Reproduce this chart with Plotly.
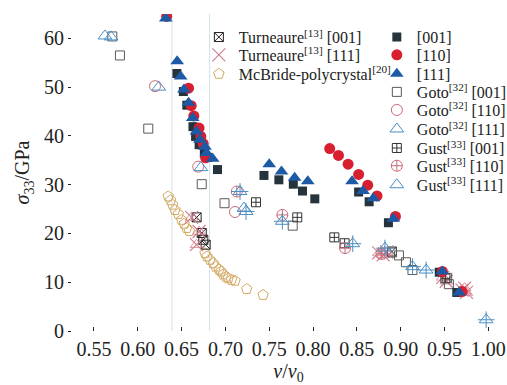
import plotly.graph_objects as go

# ---------------- data ----------------
x001 = [0.6447, 0.652, 0.656, 0.663, 0.666, 0.670, 0.676, 0.680, 0.691, 0.744, 0.761, 0.7775, 0.788, 0.802, 0.852, 0.864, 0.886, 0.944, 0.964]
y001 = [52.8, 49.1, 46.3, 41.9, 39.9, 38.2, 36.5, 35.6, 33.1, 31.9, 31.0, 30.1, 28.7, 27.1, 28.5, 26.5, 22.2, 12.05, 7.9]

x110 = [0.633, 0.658, 0.661, 0.664, 0.670, 0.672, 0.6747, 0.6775, 0.819, 0.829, 0.840, 0.852, 0.8624, 0.873, 0.894, 0.9476, 0.970]
y110 = [64.5, 49.8, 46.2, 44.1, 41.6, 39.9, 38.4, 35.5, 37.4, 36.0, 34.2, 32.1, 29.9, 27.7, 23.5, 12.2, 8.1]

x111 = [0.632, 0.645, 0.649, 0.6527, 0.658, 0.6627, 0.667, 0.671, 0.6767, 0.6786, 0.6855, 0.750, 0.764, 0.779, 0.794, 0.8445, 0.857, 0.8688, 0.8917, 0.9475, 0.9667]
y111 = [64.1, 55.3, 52.2, 49.5, 46.8, 43.7, 40.9, 39.2, 37.8, 36.5, 35.3, 34.2, 32.7, 31.4, 30.7, 30.7, 28.7, 27.2, 23.0, 12.2, 7.9]

goto001_x = [0.571, 0.5797, 0.612, 0.673, 0.699, 0.7768, 0.890, 0.898, 0.906, 0.9134, 0.953, 0.955]
goto001_y = [60.4, 56.5, 41.5, 30.1, 26.2, 21.6, 16.1, 15.5, 14.1, 12.5, 10.9, 9.6]

goto110_x = [0.6197, 0.669, 0.711]
goto110_y = [50.2, 33.7, 24.4]

goto111_x = [0.5626, 0.5695, 0.624, 0.672, 0.7212]
goto111_y = [60.5, 60.3, 50.0, 33.5, 25.2]

gust001_x = [0.7349, 0.782, 0.8243, 0.836, 0.951]
gust001_y = [26.4, 23.3, 19.2, 18.0, 10.8]

gust110_x = [0.713, 0.765, 0.8365, 0.878]
gust110_y = [28.6, 23.8, 17.0, 15.8]

gust111_x = [0.7167, 0.7235, 0.765, 0.8453, 0.882, 0.9135, 0.929, 0.9975]
gust111_y = [28.6, 24.5, 22.5, 17.9, 17.0, 13.2, 12.5, 2.3]

turn001_x = [0.6672, 0.673, 0.6748, 0.6775, 0.890]
turn001_y = [23.3, 20.1, 18.7, 17.7, 16.3]

turn111_x = [0.6615, 0.670, 0.667, 0.875, 0.880, 0.884, 0.948, 0.952, 0.970, 0.975, 0.973]
turn111_y = [23.3, 20.4, 17.7, 16.0, 15.6, 16.2, 11.0, 10.2, 8.4, 7.9, 8.8]

mcb_x = [0.6348, 0.6375, 0.6398, 0.6425, 0.6463, 0.650, 0.653, 0.6558, 0.6588, 0.6767, 0.679, 0.6824, 0.686, 0.689, 0.6927, 0.695, 0.6976, 0.7007, 0.7033, 0.707, 0.711, 0.7243, 0.743]
mcb_y = [27.6, 26.8, 25.9, 24.8, 24.0, 22.8, 22.0, 21.1, 20.5, 15.95, 15.3, 14.6, 13.9, 13.2, 12.6, 12.2, 11.6, 11.1, 10.8, 10.5, 10.3, 8.6, 7.4]

vlines = [0.639, 0.682]
xticks = [0.55, 0.60, 0.65, 0.70, 0.75, 0.80, 0.85, 0.90, 0.95, 1.00]
yticks = [0, 10, 20, 30, 40, 50, 60]

# ---------------- colours ----------------
C_DARK = "#25343c"
C_RED = "#d81f30"
C_BLUE = "#1c5aa6"
C_GRAY = "#5a5a5a"
C_PINK = "#c96a78"
C_LBLUE = "#4a8fc4"
C_TAN = "#d4aa62"
C_TPINK = "#d07c8c"

fig = go.Figure()

L_LEFT_X = 0.293
L_RIGHT_X = 0.704

def add(x, y, name, symbol, color, size, slot=None, filled=False, lw=1.0, z=0):
    if filled:
        marker = dict(symbol=symbol, size=size, color=color, line=dict(width=0))
    else:
        marker = dict(symbol=symbol, size=size, color=color, line=dict(color=color, width=lw))
    kw = {}
    if slot is not None:
        kw["legend"] = slot
        kw["showlegend"] = True
    else:
        kw["showlegend"] = False
    fig.add_trace(go.Scatter(x=x, y=y, mode="markers", name=name, marker=marker, zorder=z, **kw))

add(mcb_x, mcb_y, "McBride-polycrystal<sup>[20]</sup>", "pentagon-open", C_TAN, 11, "legend3", z=0)
add(turn001_x, turn001_y, "Turneaure<sup>[13]</sup> [001]", "square-x-open", "#222222", 9, "legend", z=1)
add(turn111_x, turn111_y, "Turneaure<sup>[13]</sup> [111]", "x-thin-open", C_TPINK, 13, "legend2", lw=1.1, z=1)
add(turn111_x, turn111_y, "", "triangle-up-open", C_TPINK, 11, None, lw=0.8, z=1)

add(goto001_x, goto001_y, "Goto<sup>[32]</sup> [001]", "square-open", C_GRAY, 9, "legend7", z=1)
add(goto110_x, goto110_y, "Goto<sup>[32]</sup> [110]", "circle-open", C_PINK, 11, "legend8", z=1)
add(goto111_x, goto111_y, "Goto<sup>[32]</sup> [111]", "triangle-up-open", C_LBLUE, 12, "legend9", z=1)
add(gust001_x, gust001_y, "Gust<sup>[33]</sup> [001]", "square-cross-open", "#333333", 9, "legend10", z=1)
add(gust110_x, gust110_y, "Gust<sup>[33]</sup> [110]", "circle-cross-open", C_PINK, 11, "legend11", z=1)
add(gust111_x, gust111_y, "Gust<sup>[33]</sup> [111]", "triangle-up-open", C_LBLUE, 12, "legend12", z=1)
add(gust111_x, gust111_y, "", "cross-thin-open", C_LBLUE, 12, None, z=1)
add(x001, y001, "[001]", "square", C_DARK, 9, "legend4", filled=True, z=2)
add(x110, y110, "[110]", "circle", C_RED, 11, "legend5", filled=True, z=3)
add(x111, y111, "[111]", "triangle-up", C_BLUE, 12, "legend6", filled=True, z=4)

for v in vlines:
    fig.add_shape(type="line", xref="x", yref="paper", x0=v, x1=v, y0=0, y1=1,
                  line=dict(color="#d3e1ea", width=1), layer="below")

rows = [0.927, 0.871, 0.811, 0.754, 0.697, 0.637, 0.577, 0.521, 0.461]
legend_pos = {
    "legend": (L_LEFT_X, rows[0]), "legend2": (L_LEFT_X, rows[1]), "legend3": (L_LEFT_X, rows[2]),
    "legend4": (L_RIGHT_X, rows[0]), "legend5": (L_RIGHT_X, rows[1]), "legend6": (L_RIGHT_X, rows[2]),
    "legend7": (L_RIGHT_X, rows[3]), "legend8": (L_RIGHT_X, rows[4]), "legend9": (L_RIGHT_X, rows[5]),
    "legend10": (L_RIGHT_X, rows[6]), "legend11": (L_RIGHT_X, rows[7]), "legend12": (L_RIGHT_X, rows[8]),
}
legend_layout = {}
for k, (lx, ly) in legend_pos.items():
    legend_layout[k] = dict(x=lx, y=ly, xanchor="left", yanchor="middle", bgcolor="rgba(0,0,0,0)",
                            font=dict(size=16, color="#222222"), itemsizing="trace",
                            borderwidth=0)

font_family = "Liberation Serif"
fig.update_layout(
    width=507, height=385,
    margin=dict(l=72, r=2, t=14, b=54, autoexpand=False),
    paper_bgcolor="white", plot_bgcolor="white",
    font=dict(family=font_family, size=16, color="#222222"),
    showlegend=True,
    xaxis=dict(range=[0.525, 1.019], tickvals=xticks, ticktext=[f"{t:.2f}" for t in xticks],
               ticks="inside", ticklen=4, tickcolor="#222", showline=True, linecolor="#222",
               linewidth=1.2, mirror=True, showgrid=False, zeroline=False, automargin=False,
               tickfont=dict(size=20),
               title=dict(text="<i>ν</i>/<i>ν</i><sub>0</sub>", font=dict(size=20), standoff=16)),
    yaxis=dict(range=[0, 65], tickvals=yticks, ticks="outside", ticklen=3, tickcolor="#222",
               showline=True, linecolor="#222", linewidth=1.2, showgrid=False, zeroline=False,
               automargin=False, tickfont=dict(size=20),
               title=dict(text="<i>σ</i><sub>33</sub>/GPa", font=dict(size=20), standoff=8)),
    **legend_layout,
)

fig.write_html("out.html")
